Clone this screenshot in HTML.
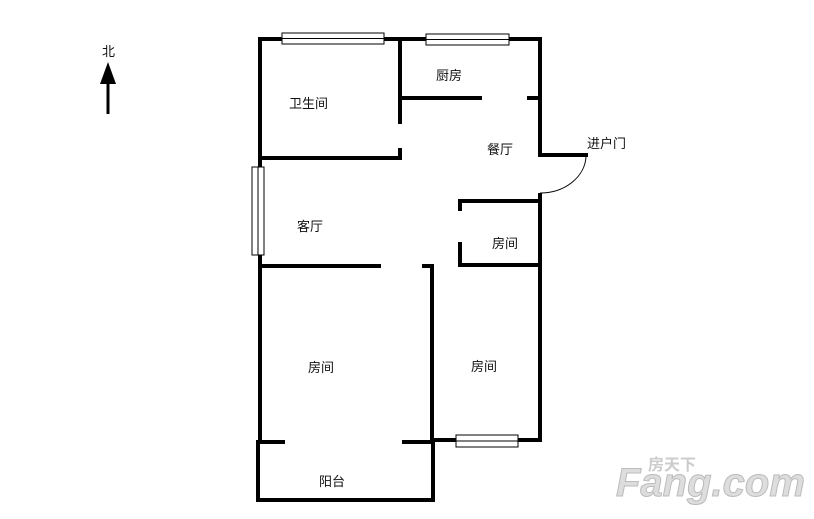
<!DOCTYPE html>
<html><head><meta charset="utf-8"><style>
html,body{margin:0;padding:0;background:#fff;}
svg{display:block}
text{font-family:"Liberation Sans","Noto Sans CJK SC",sans-serif;font-size:13px;fill:#111;}
</style></head><body>
<svg width="814" height="519" viewBox="0 0 814 519" xmlns="http://www.w3.org/2000/svg">
<g stroke="#000" stroke-width="4" fill="none" stroke-linecap="square">
<!-- outer top -->
<line x1="260" y1="39" x2="540" y2="39"/>
<line x1="260" y1="39" x2="260" y2="442"/>
<line x1="540" y1="39" x2="540" y2="154"/>
<!-- bath/kitchen divider -->
<line x1="400" y1="39" x2="400" y2="122"/>
<line x1="400" y1="150" x2="400" y2="158"/>
<!-- kitchen bottom -->
<line x1="400" y1="98" x2="480" y2="98"/>
<line x1="529" y1="98" x2="540" y2="98"/>
<!-- bath bottom -->
<line x1="260" y1="158" x2="400" y2="158"/>
<!-- entry -->
<line x1="540" y1="155" x2="586" y2="155"/>
<!-- small room -->
<line x1="460" y1="201" x2="540" y2="201"/>
<line x1="540" y1="195" x2="540" y2="440"/>
<line x1="460" y1="201" x2="460" y2="209"/>
<line x1="460" y1="244" x2="460" y2="265"/>
<line x1="460" y1="265" x2="540" y2="265"/>
<!-- living bottom -->
<line x1="260" y1="266" x2="379" y2="266"/>
<line x1="424" y1="266" x2="432" y2="266"/>
<line x1="432" y1="266" x2="432" y2="442"/>
<!-- bedroom bottom -->
<line x1="258" y1="442" x2="283" y2="442"/>
<line x1="404" y1="442" x2="432" y2="442"/>
<line x1="432" y1="440" x2="540" y2="440"/>
<!-- balcony -->
<line x1="258" y1="442" x2="258" y2="500"/>
<line x1="258" y1="500" x2="433" y2="500"/>
<line x1="433" y1="442" x2="433" y2="500"/>
</g>
<!-- windows -->
<g fill="#fff" stroke="#000" stroke-width="1">
<rect x="282" y="33" width="102" height="11"/>
<line x1="282" y1="38.5" x2="384" y2="38.5"/>
<rect x="426" y="34" width="83" height="11"/>
<line x1="426" y1="39.5" x2="509" y2="39.5"/>
<rect x="252" y="167" width="12" height="88"/>
<line x1="258" y1="167" x2="258" y2="255"/>
<rect x="456" y="435" width="62" height="12"/>
<line x1="456" y1="441" x2="518" y2="441"/>
</g>
<!-- door arc -->
<path d="M586 157 A46 38 0 0 1 540 193" fill="none" stroke="#000" stroke-width="1"/>
<!-- north arrow -->
<line x1="108" y1="80" x2="108" y2="114" stroke="#000" stroke-width="3"/>
<polygon points="108,62 100,84 116,84" fill="#000"/>
<text x="102" y="56">北</text>
<!-- labels -->
<text x="436" y="80">厨房</text>
<text x="289" y="108">卫生间</text>
<text x="487" y="154">餐厅</text>
<text x="587" y="148">进户门</text>
<text x="297" y="231">客厅</text>
<text x="492" y="248">房间</text>
<text x="308" y="372">房间</text>
<text x="471" y="371">房间</text>
<text x="319" y="486">阳台</text>
<!-- watermark -->
<text x="648" y="470" style="font-size:16px;fill:#ccc;font-weight:bold">房天下</text>
<text x="616" y="496" style="font-size:40px;fill:#ddd;font-weight:bold;font-style:italic;stroke:#bbb;stroke-width:1">Fang.com</text>
</svg>
</body></html>
